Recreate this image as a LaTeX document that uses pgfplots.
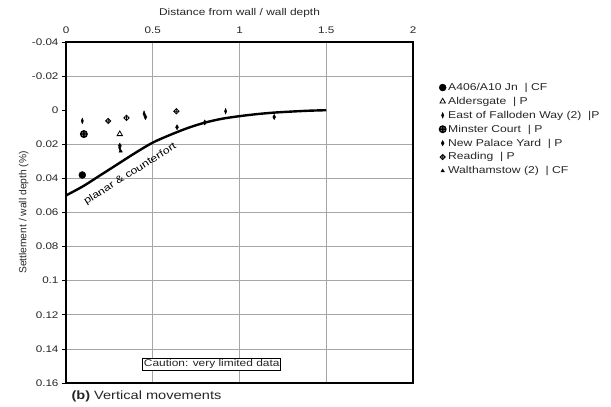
\documentclass[border=0pt]{standalone}
\usepackage{pgfplots}
\pgfplotsset{compat=1.18}
\usepackage{fontspec}
\setmainfont{Liberation Sans}[FakeStretch=1.22]
\newfontfamily\plainfont{Liberation Sans}

% open diamond with a cross inside
\pgfdeclareplotmark{dplus}{%
  \pgfpathmoveto{\pgfqpoint{0pt}{\pgfplotmarksize}}%
  \pgfpathlineto{\pgfqpoint{\pgfplotmarksize}{0pt}}%
  \pgfpathlineto{\pgfqpoint{0pt}{-\pgfplotmarksize}}%
  \pgfpathlineto{\pgfqpoint{-\pgfplotmarksize}{0pt}}%
  \pgfpathclose
  \pgfpathmoveto{\pgfqpoint{0pt}{\pgfplotmarksize}}%
  \pgfpathlineto{\pgfqpoint{0pt}{-\pgfplotmarksize}}%
  \pgfpathmoveto{\pgfqpoint{-\pgfplotmarksize}{0pt}}%
  \pgfpathlineto{\pgfqpoint{\pgfplotmarksize}{0pt}}%
  \pgfusepathqstroke}

\begin{document}
\begin{tikzpicture}
\useasboundingbox (0,0) rectangle (611bp,407bp);
\begin{axis}[
  at={(66bp,24bp)}, anchor=south west,
  scale only axis, width=347bp, height=341bp,
  xmin=0, xmax=2, ymin=-0.04, ymax=0.16, y dir=reverse,
  xtick={0,0.5,1,1.5,2},
  ytick={-0.04,-0.02,0.02,0.04,0.06,0.08,0.1,0.12,0.14,0.16},
  extra y ticks={0}, extra y tick style={grid=none},
  scaled y ticks=false, scaled x ticks=false,
  /pgf/number format/assume math mode=true,
  yticklabel style={/pgf/number format/fixed, /pgf/number format/precision=2},
  xticklabel pos=top, xtick pos=top, ytick pos=left,
  tick align=outside, major tick length=4bp,
  xtick style={draw=none},
  tick style={black, line width=0.8bp},
  grid=major, major grid style={gray!70, line width=0.8bp},
  axis line style={line width=1.3bp},
  ticklabel style={font=\fontsize{9.6}{11}\selectfont, text=black!85},
  xticklabel style={yshift=1bp},
  xlabel={Distance from wall / wall depth},
  xlabel style={font=\fontsize{9.8}{11}\selectfont, text=black!85, yshift=2bp},
  ylabel={Settlement / wall depth (\%)},
  ylabel style={at={(axis description cs:-0.122,0.5)}, anchor=center,
    font=\plainfont\fontsize{10.3}{12}\selectfont, text=black!85},
  legend cell align=left,
  legend style={draw=none, fill=none, at={(axis description cs:1,1)},
    anchor=north west, xshift=23bp, yshift=-37bp,
    font=\fontsize{10}{12}\selectfont, text=black!85, row sep=1.2bp,
    /tikz/every even column/.append style={column sep=3bp}},
]
% design curve for planar and counterfort walls
\addplot[black, line width=2.4bp, smooth, forget plot] coordinates {
  (0,0.050) (0.1,0.0445) (0.2,0.038) (0.3,0.0315) (0.4,0.025)
  (0.5,0.019) (0.6,0.0145) (0.7,0.0105) (0.8,0.0073) (0.9,0.0050)
  (1.0,0.0035) (1.1,0.0023) (1.2,0.0014) (1.3,0.0008) (1.4,0.0003) (1.5,0.0)
};
\addplot[only marks, mark=*, mark size=3.5bp, black] coordinates {
  (0.094,0.038)
};
\addlegendentry{A406/A10 Jn\ \ | CF}
\addplot[only marks, mark=triangle, mark size=3.1bp, black, mark options={line width=0.8bp}] coordinates {
  (0.31,0.014)
};
\addlegendentry{Aldersgate\ \ | P}
\addplot[only marks, mark=diamond*, mark size=2.8bp, black, mark options={xscale=0.55}] coordinates {
  (0.094,0.0063) (0.45,0.0020) (0.92,0.0006) (0.31,0.0220)
};
\addlegendentry{East of Falloden Way (2)\ \ |P}
\addplot[only marks, mark=oplus*, mark size=3.3bp, black, mark options={line width=1.3bp, fill=black!55}] coordinates {
  (0.103,0.014)
};
\addlegendentry{Minster Court\ \ | P}
\addplot[only marks, mark=diamond*, mark size=2.6bp, black, mark options={xscale=0.75}] coordinates {
  (0.64,0.010) (0.80,0.0072) (1.20,0.0040) (0.458,0.0040)
};
\addlegendentry{New Palace Yard\ \ | P}
\addplot[only marks, mark=dplus, mark size=2.7bp, black, mark options={line width=0.7bp}] coordinates {
  (0.243,0.0063) (0.349,0.0045) (0.636,0.0006)
};
\addlegendentry{Reading\ \ | P}
\addplot[only marks, mark=triangle*, mark size=2.0bp, black] coordinates {
  (0.31,0.0205) (0.315,0.0240)
};
\addlegendentry{Walthamstow (2)\ \ | CF}
% annotations
\node[rotate=32, anchor=center, font=\fontsize{10}{12}\selectfont, inner sep=0bp]
  at (axis cs:0.37,0.0375) {planar \& counterfort};
\node[draw=black, line width=1bp, fill=white, inner sep=1.5bp,
  font=\fontsize{9.8}{11}\selectfont, text=black!85]
  at (axis cs:0.84,0.149) {Caution: very limited data};
\end{axis}
\node[anchor=west, font=\fontsize{12}{14}\selectfont, text=black!85] at (68bp,11bp)
  {\textbf{(b)} Vertical movements};
\end{tikzpicture}
\end{document}
